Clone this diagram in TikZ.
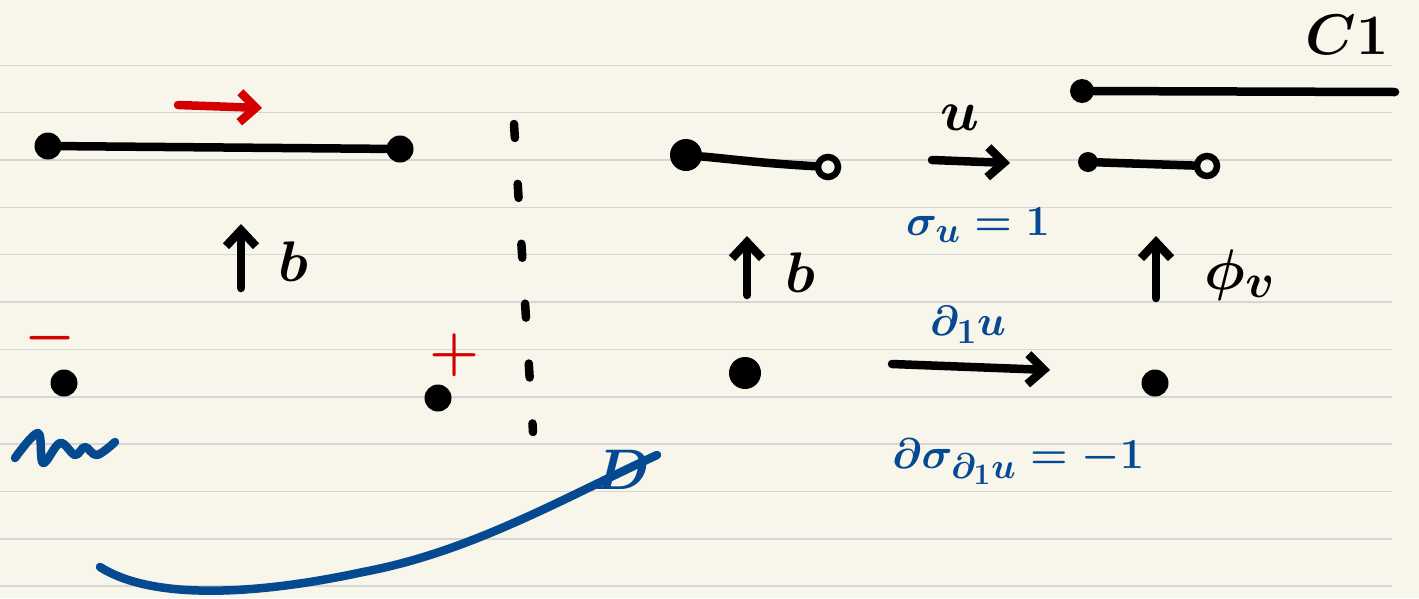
\documentclass[tikz,border=0pt]{standalone}
\usepackage{amsmath}
\usepackage{xcolor}
\usepackage{tikz}
\usetikzlibrary{positioning, arrows.meta, calc}

\definecolor{paper}{HTML}{F8F6EA}
\definecolor{ruleline}{HTML}{D6D6D6}
\definecolor{penred}{HTML}{D40000}
\definecolor{penblue}{HTML}{054A91}

\begin{document}
\begin{tikzpicture}[x=1pt,y=-1pt,
    dot/.style={circle,fill=black,inner sep=0pt,minimum size=#1},
    dot/.default=27pt,
    hollow/.style={circle,draw=black,line width=6.5pt,inner sep=0pt,minimum size=20pt},
    ink/.style={line width=8.5pt,line cap=round,line join=round},
    barb/.style={-{Straight Barb[length=16pt,width=30pt]}},
    lbl/.style={inner sep=0pt,font=\Huge\boldmath,scale=2.3},
    sublbl/.style={inner sep=0pt,font=\Huge\boldmath,scale=1.7}]

  % paper
  \fill[paper] (0,0) rectangle (1419,598);
  \useasboundingbox (0,0) rectangle (1419,598);
  \foreach \k in {0,...,11} {
    \draw[ruleline,line width=1.5pt] (0,{65.3+47.35*\k}) -- (1392,{65.3+47.35*\k});
  }

  % left interval
  \node[dot] (la) at (48,146) {};
  \node[dot] (lb) at (400,149) {};
  \draw[ink] (la) -- (lb);
  \coordinate (ra) at (178,105);
  \coordinate (rb) at (262,108);
  \draw[ink,penred,barb] (ra) -- (rb);

  \coordinate (bls) at (241,288);
  \coordinate (ble) at (241,224);
  \draw[ink,barb] (bls) -- (ble);
  \node[lbl] (bl) at (293,262) {$b$};

  % boundary points
  \node[lbl,penred] (minus) at (50,338) {$-$};
  \node[dot] (pa) at (64,383) {};
  \draw[ink,penblue] plot[smooth,tension=0.6] coordinates
    {(15,458) (38,433) (43,463) (60,443) (75,455) (85,447) (97,455) (115,442)};
  \node[lbl,penred] (plus) at (455,355) {$+$};
  \node[dot] (pb) at (438,398) {};

  % cut
  \coordinate (cuta) at (514,124);
  \coordinate (cutb) at (533,432);
  \draw[ink,dash pattern=on 14pt off 46pt] (cuta) -- (cutb);

  % blue curve and D
  \coordinate (ca) at (100,567);
  \coordinate (cb) at (657,455);
  \draw[ink,penblue] (ca) .. controls (160,605) and (280,590) .. (363,572)
    .. controls (470,552) and (560,500) .. (cb);
  \node[lbl,penblue] (dd) at (622,470) {$D$};

  % middle half-open interval
  \node[dot=32pt] (ma) at (686,155) {};
  \node[hollow] (mb) at (828,167) {};
  \draw[ink] (ma) .. controls (740,160) and (760,163) .. (mb);

  \coordinate (bms) at (747,295);
  \coordinate (bme) at (747,236);
  \draw[ink,barb] (bms) -- (bme);
  \node[lbl] (bm) at (800,273) {$b$};
  \node[dot=32pt] (mp) at (745,373) {};

  % maps
  \coordinate (ua) at (932,160);
  \coordinate (ub) at (1010,163);
  \draw[ink,barb] (ua) -- (ub);
  \node[lbl] (ul) at (960,118) {$u$};
  \node[lbl,penblue,scale=0.75] (su) at (978,225) {$\sigma_u = 1$};

  \coordinate (da) at (892,364);
  \coordinate (db) at (1050,370);
  \draw[ink,barb] (da) -- (db);
  \node[sublbl,penblue] (dl) at (968,325) {$\partial_1 u$};
  \node[lbl,penblue,scale=0.75] (dsu) at (1018,462) {$\partial\sigma_{\partial_1 u} = -1$};

  % right: C1
  \node[lbl] (cone) at (1347,35) {$C1$};
  \node[dot=24pt] (ra1) at (1082,91) {};
  \coordinate (ra2) at (1395,92);
  \draw[ink] (ra1) -- (ra2);
  \node[dot=20pt] (rs1) at (1088,162) {};
  \node[hollow] (rs2) at (1207,166) {};
  \draw[ink] (rs1) -- (rs2);

  \coordinate (phs) at (1156,298);
  \coordinate (phe) at (1156,236);
  \draw[ink,barb] (phs) -- (phe);
  \node[lbl] (phv) at (1240,275) {$\phi_v$};
  \node[dot] (rp) at (1155,383) {};
\end{tikzpicture}
\end{document}
